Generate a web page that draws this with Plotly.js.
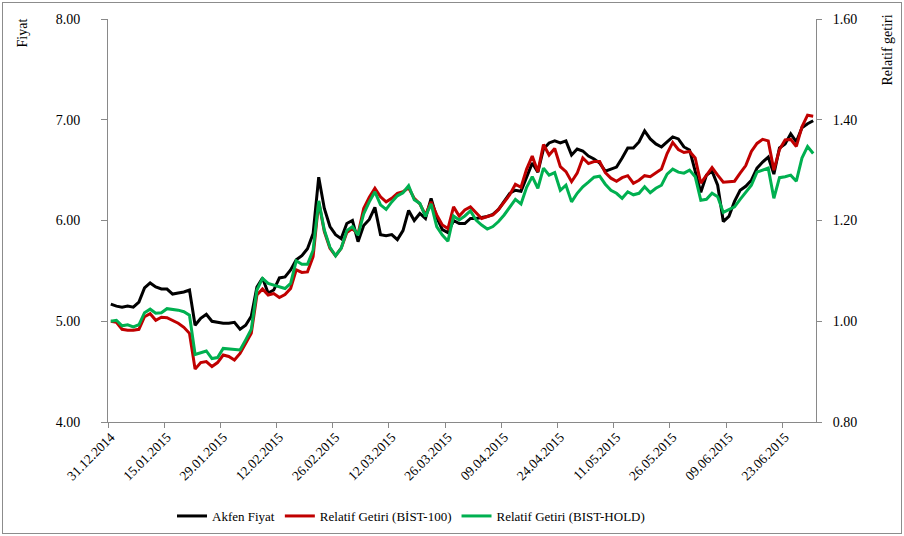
<!DOCTYPE html>
<html>
<head>
<meta charset="utf-8">
<script src="https://cdn.plot.ly/plotly-3.0.1.min.js"></script>
<style>
  html, body { margin: 0; padding: 0; background: #ffffff; }
  #wrap { position: relative; width: 904px; height: 536px; }
  #chart { position: absolute; left: 0; top: 0; width: 904px; height: 536px; }
  #frame { position: absolute; left: 2px; top: 2px; width: 898px; height: 530px; border: 1px solid #8c8c8c; pointer-events: none; }
</style>
</head>
<body>
<div id="wrap"><div id="chart"></div><div id="frame"></div></div>
<script>
// Trading days (category labels)
const dates = [
  "31.12.2014",
  "02.01.2015","05.01.2015","06.01.2015","07.01.2015","08.01.2015","09.01.2015","12.01.2015","13.01.2015","14.01.2015","15.01.2015",
  "16.01.2015","19.01.2015","20.01.2015","21.01.2015","22.01.2015","23.01.2015","26.01.2015","27.01.2015","28.01.2015","29.01.2015",
  "30.01.2015","02.02.2015","03.02.2015","04.02.2015","05.02.2015","06.02.2015","09.02.2015","10.02.2015","11.02.2015","12.02.2015",
  "13.02.2015","16.02.2015","17.02.2015","18.02.2015","19.02.2015","20.02.2015","23.02.2015","24.02.2015","25.02.2015","26.02.2015",
  "27.02.2015","02.03.2015","03.03.2015","04.03.2015","05.03.2015","06.03.2015","09.03.2015","10.03.2015","11.03.2015","12.03.2015",
  "13.03.2015","16.03.2015","17.03.2015","18.03.2015","19.03.2015","20.03.2015","23.03.2015","24.03.2015","25.03.2015","26.03.2015",
  "27.03.2015","30.03.2015","31.03.2015","01.04.2015","02.04.2015","03.04.2015","06.04.2015","07.04.2015","08.04.2015","09.04.2015",
  "10.04.2015","13.04.2015","14.04.2015","15.04.2015","16.04.2015","17.04.2015","20.04.2015","21.04.2015","22.04.2015","24.04.2015",
  "27.04.2015","28.04.2015","29.04.2015","30.04.2015","04.05.2015","05.05.2015","06.05.2015","07.05.2015","08.05.2015","11.05.2015",
  "12.05.2015","13.05.2015","14.05.2015","15.05.2015","18.05.2015","20.05.2015","21.05.2015","22.05.2015","25.05.2015","26.05.2015",
  "27.05.2015","28.05.2015","29.05.2015","01.06.2015","02.06.2015","03.06.2015","04.06.2015","05.06.2015","08.06.2015","09.06.2015",
  "10.06.2015","11.06.2015","12.06.2015","15.06.2015","16.06.2015","17.06.2015","18.06.2015","19.06.2015","22.06.2015","23.06.2015",
  "24.06.2015","25.06.2015","26.06.2015","29.06.2015","30.06.2015"
];

// Akfen Fiyat (left axis)
const akfenFiyat = [
  5.17,
  5.15,5.14,5.15,5.14,5.19,5.33,5.38,5.34,5.32,5.32,
  5.27,5.28,5.29,5.31,4.96,5.03,5.07,5.00,4.99,4.98,
  4.98,4.99,4.92,4.96,5.05,5.34,5.43,5.28,5.31,5.43,
  5.44,5.51,5.61,5.65,5.72,5.87,6.43,6.12,5.94,5.86,
  5.82,5.97,6.00,5.79,5.95,6.01,6.13,5.86,5.85,5.86,
  5.81,5.90,6.10,6.00,6.07,6.02,6.22,6.03,5.91,5.88,
  6.00,5.97,5.97,6.02,6.02,6.03,6.04,6.06,6.11,6.19,
  6.27,6.30,6.29,6.43,6.57,6.48,6.71,6.77,6.79,6.77,
  6.79,6.65,6.71,6.69,6.64,6.61,6.57,6.49,6.51,6.53,
  6.62,6.72,6.72,6.78,6.89,6.81,6.76,6.73,6.78,6.83,
  6.81,6.73,6.70,6.48,6.28,6.45,6.49,6.35,5.99,6.04,
  6.19,6.30,6.34,6.40,6.52,6.58,6.63,6.46,6.72,6.76,
  6.86,6.78,6.92,6.96,6.99
];

// Relatif Getiri (BİST-100) (right axis)
const relBist100 = [
  1.000,
  0.998,0.984,0.982,0.982,0.984,1.009,1.015,1.002,1.008,1.007,
  1.001,0.996,0.988,0.976,0.905,0.918,0.920,0.910,0.918,0.933,
  0.930,0.923,0.936,0.956,0.976,1.052,1.064,1.052,1.055,1.047,
  1.053,1.065,1.102,1.097,1.098,1.128,1.237,1.178,1.145,1.130,
  1.145,1.176,1.184,1.173,1.224,1.246,1.264,1.247,1.237,1.244,
  1.254,1.257,1.265,1.244,1.233,1.211,1.237,1.211,1.191,1.184,
  1.227,1.209,1.221,1.227,1.215,1.204,1.208,1.211,1.222,1.237,
  1.251,1.272,1.266,1.302,1.328,1.297,1.351,1.330,1.343,1.307,
  1.297,1.277,1.294,1.324,1.313,1.317,1.317,1.295,1.284,1.278,
  1.285,1.289,1.274,1.280,1.289,1.287,1.295,1.302,1.333,1.355,
  1.341,1.335,1.337,1.324,1.274,1.289,1.305,1.290,1.276,1.277,
  1.278,1.294,1.309,1.337,1.353,1.361,1.358,1.300,1.341,1.360,
  1.361,1.347,1.386,1.409,1.407
];

// Relatif Getiri (BIST-HOLD) (right axis)
const relBistHold = [
  1.000,
  1.002,0.991,0.993,0.989,0.993,1.017,1.024,1.016,1.017,1.025,
  1.024,1.022,1.019,1.012,0.934,0.938,0.941,0.926,0.928,0.946,
  0.945,0.944,0.943,0.963,0.984,1.062,1.085,1.075,1.072,1.069,
  1.065,1.075,1.120,1.113,1.113,1.141,1.239,1.181,1.147,1.130,
  1.145,1.180,1.188,1.171,1.213,1.237,1.257,1.231,1.222,1.237,
  1.249,1.255,1.269,1.241,1.234,1.208,1.233,1.188,1.171,1.159,
  1.209,1.201,1.209,1.219,1.201,1.191,1.183,1.188,1.198,1.211,
  1.227,1.242,1.233,1.266,1.287,1.264,1.304,1.290,1.295,1.260,
  1.270,1.237,1.254,1.267,1.276,1.286,1.288,1.272,1.260,1.254,
  1.244,1.257,1.251,1.254,1.267,1.255,1.264,1.270,1.292,1.302,
  1.296,1.294,1.300,1.287,1.240,1.242,1.254,1.247,1.216,1.222,
  1.227,1.242,1.256,1.270,1.296,1.300,1.304,1.244,1.285,1.287,
  1.290,1.278,1.324,1.347,1.333
];

const seriesNames = ["Akfen Fiyat", "Relatif Getiri (BİST-100)", "Relatif Getiri (BIST-HOLD)"];
const leftTitle = "Fiyat";
const rightTitle = "Relatif getiri";

const xIdx = dates.map((d, i) => i);
const tickIdx = xIdx.filter(i => i % 10 === 0);
const tickText = tickIdx.map(i => dates[i]);

const FONT = "'Liberation Serif', 'Times New Roman', serif";
const AXIS_COLOR = "#898989";

const traces = [
  { x: xIdx, y: akfenFiyat, text: dates, name: seriesNames[0], type: "scatter", mode: "lines",
    line: { color: "#000000", width: 3 }, yaxis: "y" },
  { x: xIdx, y: relBist100, text: dates, name: seriesNames[1], type: "scatter", mode: "lines",
    line: { color: "#C00000", width: 3 }, yaxis: "y2" },
  { x: xIdx, y: relBistHold, text: dates, name: seriesNames[2], type: "scatter", mode: "lines",
    line: { color: "#00B050", width: 3 }, yaxis: "y2" }
];

const W = 904, H = 536, L = 108, R = 88, T = 19, B = 114;
const pw = W - L - R, ph = H - T - B;

const layout = {
  width: W, height: H,
  margin: { l: L, r: R, t: T, b: B, pad: 0, autoexpand: false },
  paper_bgcolor: "#ffffff", plot_bgcolor: "#ffffff",
  font: { family: FONT, size: 13, color: "#000000" },
  showlegend: true,
  legend: {
    orientation: "h", x: (172 - L) / pw, xanchor: "left", y: (T + ph - 516) / ph, yanchor: "middle",
    font: { family: FONT, size: 13, color: "#000000" }, bgcolor: "rgba(0,0,0,0)",
    itemwidth: 30, tracegroupgap: 0
  },
  xaxis: {
    automargin: false,
    range: [-0.5, dates.length - 0.5], showgrid: false, zeroline: false,
    showline: true, linecolor: AXIS_COLOR, linewidth: 1,
    tickmode: "array", tickvals: tickIdx, ticktext: tickText, tickangle: -45,
    ticks: "outside", ticklen: 1, tickcolor: "rgba(0,0,0,0)",
    minor: { tickmode: "linear", tick0: -0.5, dtick: 10, ticks: "outside", ticklen: 5, tickcolor: AXIS_COLOR, showgrid: false },
    tickfont: { family: FONT, size: 13.5, color: "#000000" }
  },
  yaxis: {
    automargin: false,
    range: [4, 8], dtick: 1, tick0: 4, tickformat: ".2f", showgrid: false, zeroline: false,
    showline: true, linecolor: AXIS_COLOR, linewidth: 1,
    ticks: "outside", ticklen: 6, tickcolor: AXIS_COLOR, ticklabelstandoff: 18,
    tickfont: { family: FONT, size: 14, color: "#000000" }
  },
  yaxis2: {
    automargin: false,
    range: [0.8, 1.6], dtick: 0.2, tick0: 0.8, tickformat: ".2f", overlaying: "y", side: "right",
    showgrid: false, zeroline: false, showline: true, linecolor: AXIS_COLOR, linewidth: 1,
    ticks: "outside", ticklen: 5, tickcolor: AXIS_COLOR, ticklabelstandoff: 8,
    tickfont: { family: FONT, size: 14, color: "#000000" }
  },
  annotations: [
    { text: leftTitle, xref: "paper", yref: "paper", x: (22 - L) / pw, y: (T + ph - 17) / ph,
      xanchor: "center", yanchor: "top", textangle: -90, showarrow: false,
      font: { family: FONT, size: 14, color: "#000000" } },
    { text: rightTitle, xref: "paper", yref: "paper", x: (887 - L) / pw, y: (T + ph - 13) / ph,
      xanchor: "center", yanchor: "top", textangle: -90, showarrow: false,
      font: { family: FONT, size: 14, color: "#000000" } }
  ]
};

Plotly.newPlot("chart", traces, layout, { displayModeBar: false, staticPlot: true });
</script>
</body>
</html>
